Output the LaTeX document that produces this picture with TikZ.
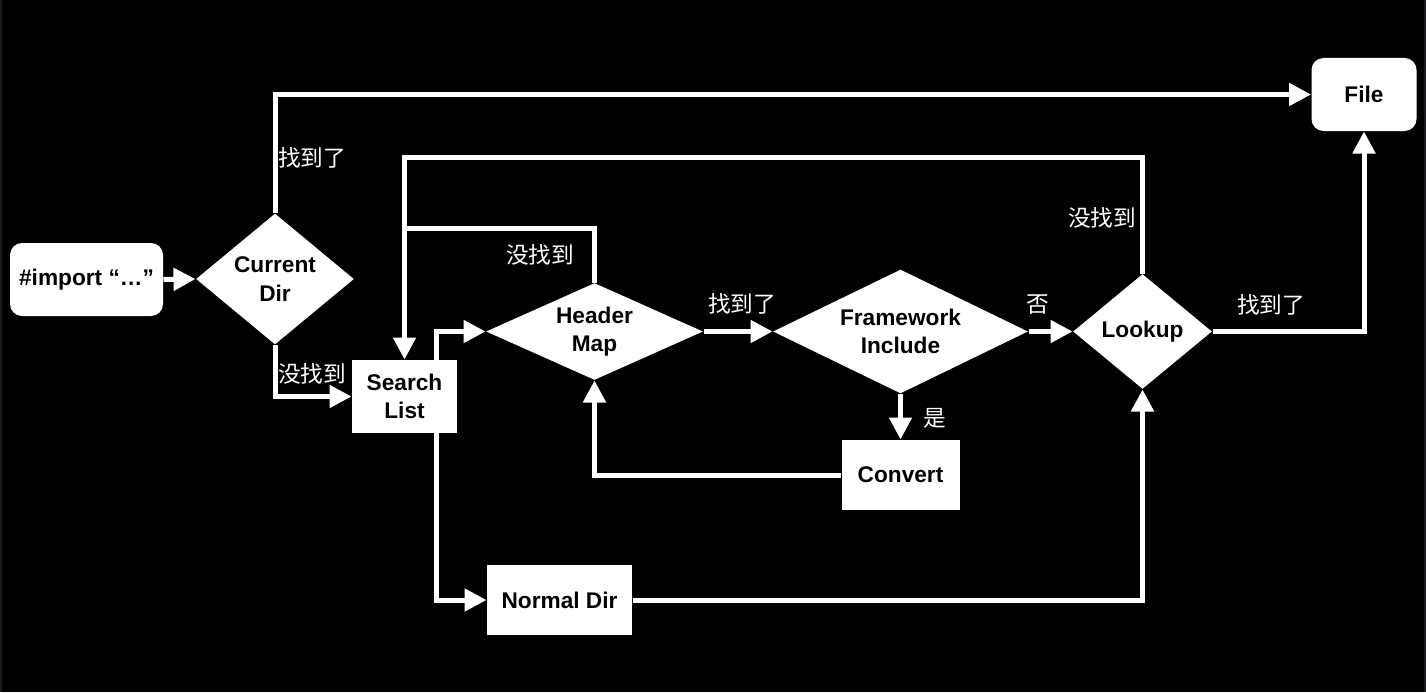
\documentclass[tikz,border=0pt]{standalone}
\usepackage{fontspec}
\setmainfont{Liberation Sans}
\newfontfamily\cjk{Noto Sans CJK SC}
\usetikzlibrary{shapes.geometric,arrows.meta}

\definecolor{edgegray}{RGB}{28,28,32}
\tikzset{every picture/.style={line width=0.75pt}}
\tikzset{
  box/.style={fill=white, text=black, inner sep=0pt, align=center, font=\bfseries\fontsize{17}{21.5}\selectfont},
  rbox/.style={box, rounded corners=9pt},
  decide/.style={box, diamond},
  flow/.style={draw=white, line width=3.75pt, -{Triangle[length=16.5pt,width=16.5pt]}},
  wire/.style={draw=white, line width=3.75pt},
  tag/.style={text=white, inner sep=0pt, font=\cjk\fontsize{17}{20}\selectfont}
}

\begin{document}
\begin{tikzpicture}[x=0.75pt,y=0.75pt,yscale=-1,xscale=1]
%Background
\fill[black] (0,0) rectangle (1426,692);
\fill[edgegray] (0,0) rectangle (2,692);
\fill[edgegray] (1424,0) rectangle (1426,692);

%Shape: Rounded Rect
\node[rbox, minimum width=114.75pt, minimum height=54.75pt] (import) at (86.5,279.5) {\#import “…”};
%Shape: Diamond
\node[decide, aspect=1.2, minimum width=118.5pt, minimum height=98.25pt] (cdir) at (275,279) {Current\\Dir};
%Shape: Rectangle
\node[box, minimum width=78.75pt, minimum height=54.75pt] (slist) at (404.5,396.5) {Search\\List};
%Shape: Diamond
\node[decide, aspect=2.2, minimum width=162.75pt, minimum height=72.75pt] (hmap) at (594.5,331.5) {Header\\Map};
%Shape: Diamond
\node[decide, aspect=2, minimum width=191.25pt, minimum height=93pt] (fwk) at (900.5,331.5) {Framework\\Include};
%Shape: Diamond
\node[decide, aspect=1.2, minimum width=104.25pt, minimum height=86.25pt] (lookup) at (1142.5,331.5) {Lookup};
%Shape: Rectangle
\node[box, minimum width=88.5pt, minimum height=52.5pt] (conv) at (900.5,475) {Convert};
%Shape: Rectangle
\node[box, minimum width=108.75pt, minimum height=52.5pt] (ndir) at (559.5,600) {Normal Dir};
%Shape: Rounded Rect
\node[rbox, minimum width=78.75pt, minimum height=54.75pt] (file) at (1364,94.5) {File};

%Straight Lines
\coordinate (slup) at (436,360);
\coordinate (sldn) at (436,433);
\coordinate (backtop) at (404.5,157);
\coordinate (backmid) at (404.5,228);

\draw[flow] (import.east) -- (cdir.west);
\draw[flow] (cdir.north) |- (file.west);
\draw[flow] (cdir.south) |- (slist.west);
\draw[flow] (slup) |- (hmap.west);
\draw[flow] (sldn) |- (ndir.west);
\draw[flow] (hmap.east) -- (fwk.west);
\draw[flow] (fwk.east) -- (lookup.west);
\draw[flow] (fwk.south) -- (conv.north);
\draw[flow] (conv.west) -| (hmap.south);
\draw[flow] (ndir.east) -| (lookup.south);
\draw[flow] (lookup.east) -| (file.south);
\draw[flow] (lookup.north) |- (backtop) -- (slist.north);
\draw[wire] (hmap.north) |- (backmid);

% Text Node
\node[tag] (t1) at (312,158) {找到了};
% Text Node
\node[tag] (t2) at (312,374) {没找到};
% Text Node
\node[tag] (t3) at (540,255) {没找到};
% Text Node
\node[tag] (t4) at (742,304) {找到了};
% Text Node
\node[tag] (t5) at (935,418) {是};
% Text Node
\node[tag] (t6) at (1038,305) {否};
% Text Node
\node[tag] (t7) at (1102,218) {没找到};
% Text Node
\node[tag] (t8) at (1271,305) {找到了};

\end{tikzpicture}
\end{document}
